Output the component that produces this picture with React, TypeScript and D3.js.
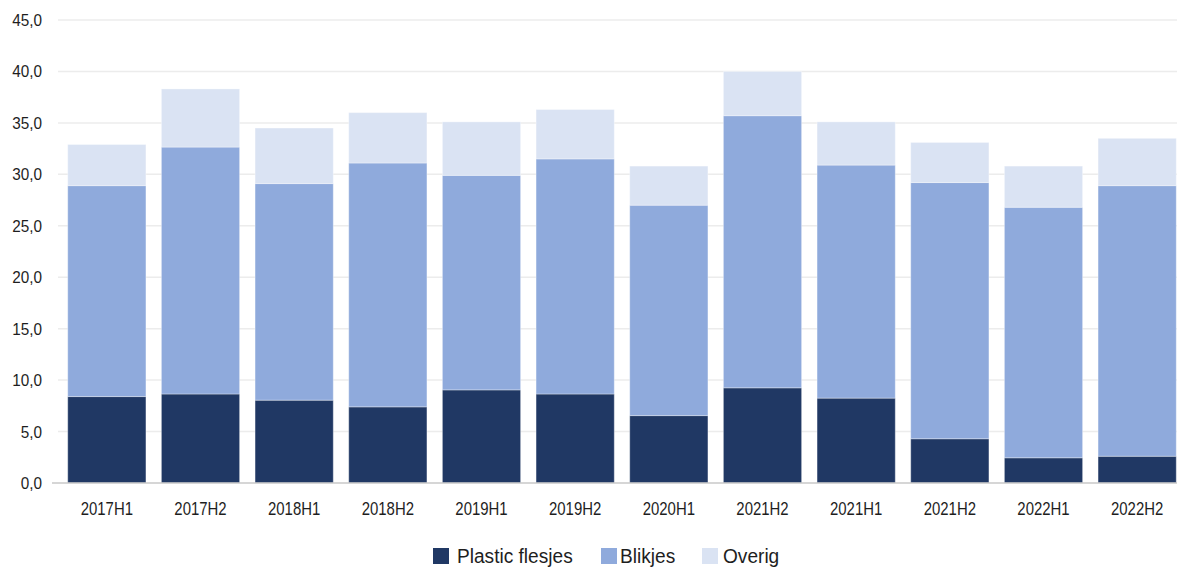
import React from "react";
import * as d3 from "d3";

const categories = ["2017H1","2017H2","2018H1","2018H2","2019H1","2019H2","2020H1","2021H2","2021H1","2021H2","2022H1","2022H2"];
const plastic = [8.4, 8.65, 8.05, 7.4, 9.05, 8.65, 6.55, 9.25, 8.25, 4.3, 2.45, 2.6];
const blikjes = [20.5, 24.0, 21.05, 23.7, 20.85, 22.85, 20.45, 26.45, 22.65, 24.9, 24.35, 26.3];
const overig = [4.0, 5.65, 5.4, 4.9, 5.2, 4.8, 3.8, 4.3, 4.2, 3.9, 4.0, 4.6];
const seriesNames = ["Plastic flesjes", "Blikjes", "Overig"];
const seriesColors = ["#203864", "#8FAADC", "#DAE3F3"];
const yTicks = [0, 5, 10, 15, 20, 25, 30, 35, 40, 45];

const W = 1177, H = 571;
const FONT = "'Liberation Sans', Arial, sans-serif";

function Txt({ x, y, sx, size, anchor, children }: any) {
  return (
    <text transform={`translate(${x},${y}) scale(${sx},1)`} fontSize={size} textAnchor={anchor || "start"} fill="#1e1e1e">
      {children}
    </text>
  );
}

export default function App() {
  const y = d3.scaleLinear().domain([0, 45]).range([483, 20]);
  const x = d3.scaleBand<number>().domain(d3.range(categories.length)).range([60, 1184]).paddingInner(0.165).paddingOuter(0.0825);
  const rows = categories.map((c, i) => ({ i, p: plastic[i], b: blikjes[i], o: overig[i] }));
  const stack = d3.stack<any>().keys(["p", "b", "o"])(rows);
  const fmt = (v: number) => v.toFixed(1).replace(".", ",");
  const legendSq = [433, 601, 702];
  const legendTx = [457, 620, 723];
  return (
    <svg width={W} height={H} style={{ position: "absolute", left: 0, top: 0, background: "#fff" }} fontFamily={FONT}>
      {yTicks.map((t) => (
        <g key={t}>
          {t > 0 && <line x1={58} x2={W} y1={y(t)} y2={y(t)} stroke="#ececec" strokeWidth={1.5} />}
          <Txt x={42} y={y(t) + 6} sx={0.9} size={17} anchor="end">{fmt(t)}</Txt>
        </g>
      ))}
      {stack.map((s, si) => (
        <g key={si} fill={seriesColors[si]}>
          {s.map((d, i) => (
            <rect key={i} x={x(i)} width={x.bandwidth()} y={y(d[1])} height={y(d[0]) - y(d[1])} stroke="#ffffff" strokeOpacity={0.35} strokeWidth={1} />
          ))}
        </g>
      ))}
      <line x1={52} x2={W} y1={y(0)} y2={y(0)} stroke="#c8c8c8" strokeWidth={1.5} />
      {categories.map((c, i) => (
        <Txt key={i} x={(x(i) as number) + x.bandwidth() / 2} y={515} sx={0.83} size={18} anchor="middle">{c}</Txt>
      ))}
      {seriesNames.map((n, i) => (
        <g key={n}>
          <rect x={legendSq[i]} y={548} width={16} height={16} fill={seriesColors[i]} />
          <Txt x={legendTx[i]} y={563} sx={0.91} size={21}>{n}</Txt>
        </g>
      ))}
    </svg>
  );
}
